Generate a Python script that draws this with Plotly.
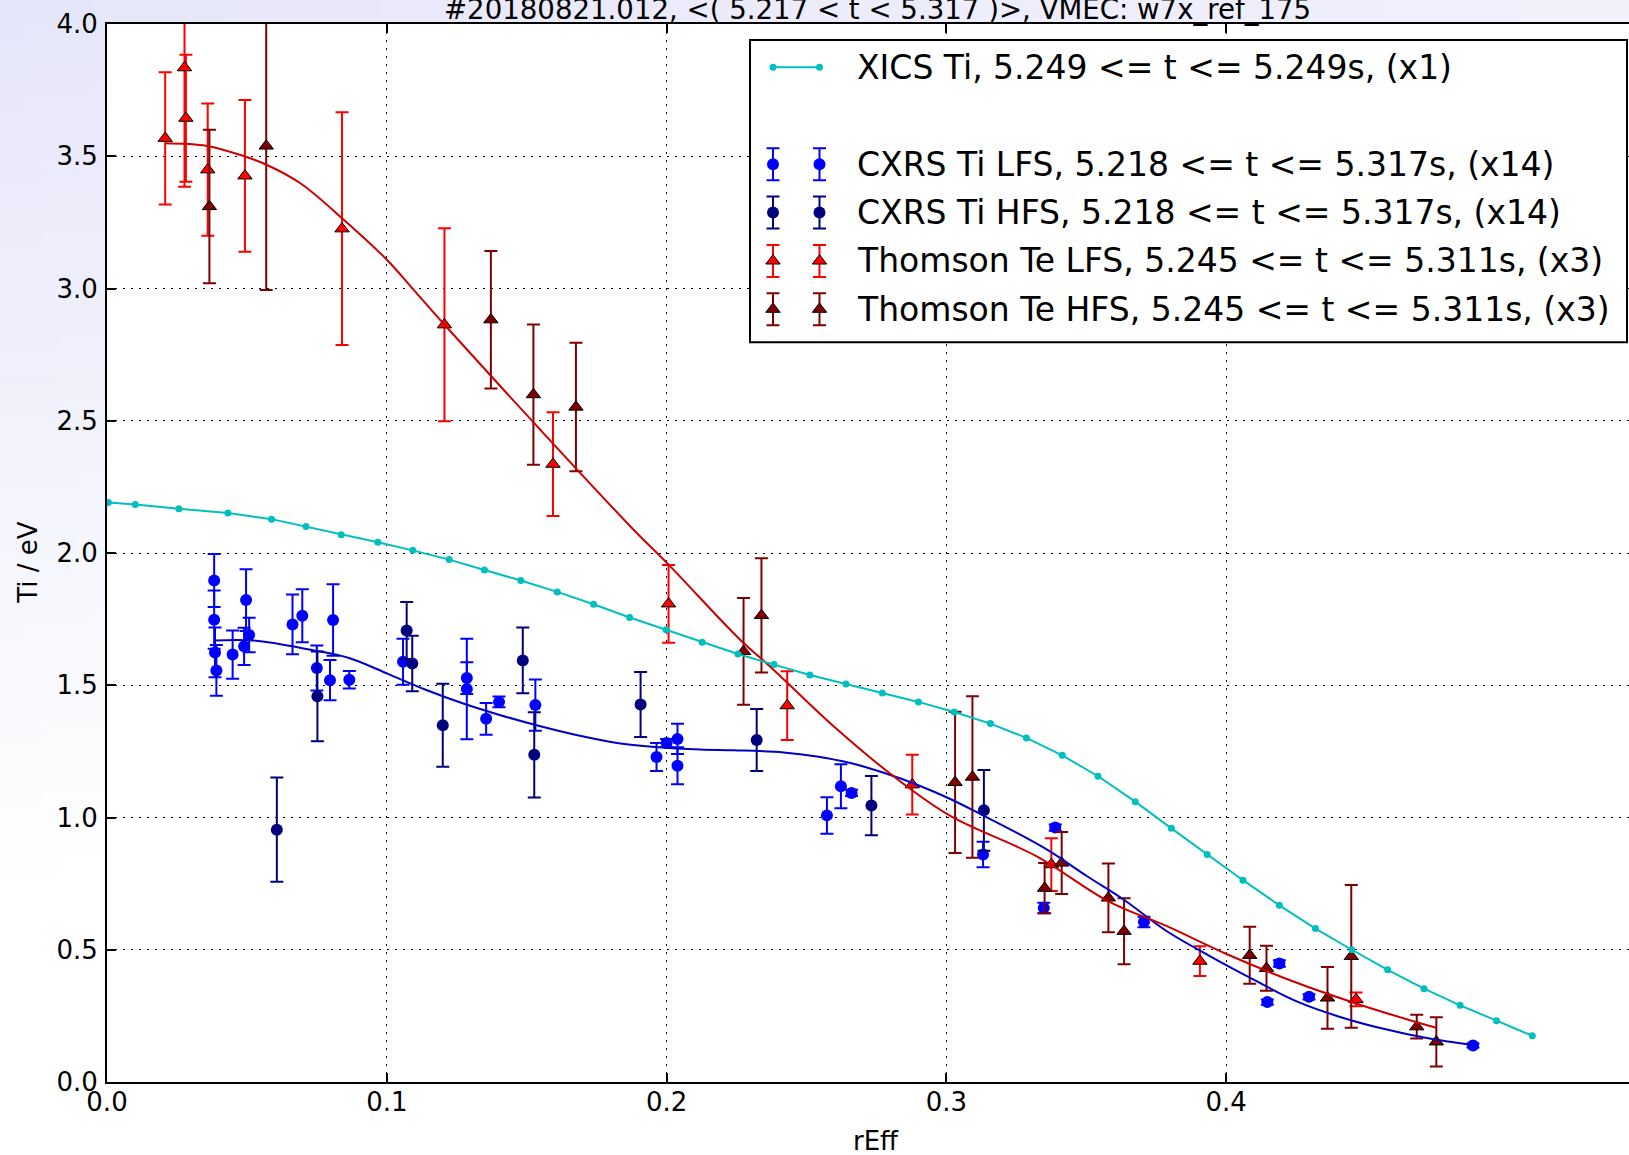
import base64
import struct
import zlib

import plotly.graph_objects as go

# ---------------- data ----------------
xics_r = [0.0005, 0.0101, 0.0257, 0.0432, 0.0588, 0.0711, 0.0837, 0.0968, 0.1093, 0.1223,
          0.1349, 0.1479, 0.1609, 0.1739, 0.1868, 0.1998, 0.2127, 0.2255, 0.2384, 0.2512,
          0.2641, 0.2771, 0.2900, 0.3028, 0.3157, 0.3286, 0.3414, 0.3542, 0.3675, 0.3804,
          0.3932, 0.4060, 0.4190, 0.4319, 0.4449, 0.4577, 0.4707, 0.4836, 0.4966, 0.5094]
xics_ti = [2.191, 2.183, 2.167, 2.151, 2.128, 2.100, 2.069, 2.041, 2.010, 1.975,
           1.936, 1.896, 1.853, 1.806, 1.756, 1.710, 1.663, 1.618, 1.578, 1.539,
           1.505, 1.471, 1.437, 1.399, 1.355, 1.301, 1.235, 1.156, 1.060, 0.959,
           0.860, 0.763, 0.668, 0.580, 0.500, 0.424, 0.353, 0.290, 0.232, 0.175]

cxrs_lfs_r = [0.0383, 0.0383, 0.0386, 0.0391, 0.0449, 0.0490, 0.0497, 0.0508, 0.0663, 0.0698,
              0.0808, 0.0750, 0.0797, 0.0866, 0.1058, 0.1286, 0.1286, 0.1355, 0.1401, 0.1531,
              0.1964, 0.2000, 0.2039, 0.2039, 0.2573, 0.2623, 0.2661, 0.3131, 0.3389, 0.3348,
              0.3706, 0.4190, 0.4147, 0.4296, 0.4882]
cxrs_lfs_ti = [1.896, 1.748, 1.624, 1.556, 1.616, 1.647, 1.822, 1.690, 1.730, 1.763,
               1.747, 1.565, 1.519, 1.521, 1.589, 1.527, 1.486, 1.373, 1.437, 1.425,
               1.229, 1.282, 1.297, 1.196, 1.008, 1.118, 1.093, 0.860, 0.962, 0.658,
               0.605, 0.448, 0.302, 0.322, 0.138]
cxrs_lfs_err = [0.100, 0.110, 0.094, 0.096, 0.091, 0.070, 0.117, 0.065, 0.113, 0.100,
                0.135, 0.085, 0.076, 0.033, 0.087, 0.060, 0.190, 0.060, 0.020, 0.097,
                0.053, 0.015, 0.057, 0.070, 0.069, 0.083, 0.012, 0.048, 0.012, 0.020,
                0.020, 0.012, 0.010, 0.010, 0.008]

cxrs_hfs_r = [0.0752, 0.0607, 0.1071, 0.1091, 0.1200, 0.1486, 0.1527, 0.1907, 0.2322, 0.2732, 0.3134]
cxrs_hfs_ti = [1.458, 0.954, 1.707, 1.582, 1.349, 1.594, 1.237, 1.427, 1.293, 1.045, 1.027]
cxrs_hfs_err = [0.170, 0.197, 0.108, 0.105, 0.157, 0.124, 0.161, 0.123, 0.117, 0.112, 0.153]

ts_lfs_r = [0.0208, 0.0277, 0.0282, 0.0360, 0.0493, 0.0840, 0.1206, 0.1594, 0.2007, 0.2431,
            0.2878, 0.3375, 0.3906, 0.4464]
ts_lfs_te = [3.568, 3.835, 3.644, 3.449, 3.426, 3.226, 2.863, 2.336, 1.808, 1.423,
             1.124, 0.822, 0.457, 0.312]
ts_lfs_err = [0.250, 0.450, 0.240, 0.250, 0.287, 0.440, 0.365, 0.196, 0.147, 0.130,
              0.113, 0.100, 0.056, 0.026]

ts_hfs_r = [0.0366, 0.0569, 0.1372, 0.1524, 0.1676, 0.2275, 0.2339, 0.3031, 0.3093, 0.3351,
            0.3412, 0.3579, 0.3635, 0.4084, 0.4144, 0.4362, 0.4447, 0.4681, 0.4751]
ts_hfs_te = [3.310, 3.539, 2.882, 2.599, 2.552, 1.628, 1.764, 1.133, 1.153, 0.733,
             0.828, 0.696, 0.570, 0.479, 0.430, 0.318, 0.475, 0.209, 0.152]
ts_hfs_err = [0.290, 0.545, 0.260, 0.265, 0.243, 0.202, 0.216, 0.267, 0.305, 0.095,
              0.117, 0.130, 0.125, 0.108, 0.085, 0.117, 0.270, 0.045, 0.093]

cxrs_fit_r = [0.0386, 0.0523, 0.0728, 0.0865, 0.1002, 0.1139, 0.1276, 0.1412, 0.1549, 0.1686,
              0.1823, 0.1959, 0.2121, 0.2240, 0.2418, 0.2537, 0.2657, 0.2776, 0.2895, 0.3014,
              0.3133, 0.3252, 0.3370, 0.3503, 0.3633, 0.3788, 0.3943, 0.4098, 0.4252, 0.4407,
              0.4562, 0.4717, 0.4882]
cxrs_fit_ti = [1.669, 1.669, 1.634, 1.603, 1.544, 1.483, 1.430, 1.385, 1.345, 1.310,
               1.282, 1.267, 1.257, 1.254, 1.246, 1.231, 1.206, 1.169, 1.124, 1.070,
               1.007, 0.942, 0.872, 0.778, 0.690, 0.570, 0.475, 0.387, 0.305, 0.246,
               0.201, 0.166, 0.139]

ts_fit_r = [0.0208, 0.0357, 0.0488, 0.0572, 0.0691, 0.0840, 0.1001, 0.1096, 0.1206, 0.1545,
            0.1882, 0.2007, 0.2263, 0.2382, 0.2597, 0.2811, 0.3014, 0.3323, 0.3579, 0.3788,
            0.4005, 0.4252, 0.4464, 0.4681, 0.4751]
ts_fit_te = [3.549, 3.539, 3.501, 3.467, 3.398, 3.266, 3.108, 2.995, 2.863, 2.470,
             2.088, 1.956, 1.672, 1.559, 1.345, 1.156, 1.006, 0.853, 0.683, 0.589,
             0.482, 0.375, 0.297, 0.226, 0.205]

x_ticks = [0.0, 0.1, 0.2, 0.3, 0.4]
y_ticks = [0.0, 0.5, 1.0, 1.5, 2.0, 2.5, 3.0, 3.5, 4.0]

title_text = "#20180821.012, <( 5.217 < t < 5.317 )>, VMEC: w7x_ref_175"
legend_labels = [
    "XICS Ti, 5.249 <= t <= 5.249s, (x1)",
    "CXRS Ti LFS, 5.218 <= t <= 5.317s, (x14)",
    "CXRS Ti HFS, 5.218 <= t <= 5.317s, (x14)",
    "Thomson Te LFS, 5.245 <= t <= 5.311s, (x3)",
    "Thomson Te HFS, 5.245 <= t <= 5.311s, (x3)",
]

# ---------------- geometry / style ----------------
W, H = 1629, 1155
REF_L, REF_T, REF_B = 107, 24, 1082.5   # plot area in page pixels
L, T = REF_L, REF_T
B = H - REF_B
PW = W - L
PH = H - T - B
PX_PER_X = 2798.0
X_MAX = PW / PX_PER_X
FONT = "DejaVu Sans"

C_CYAN = "#00bfbf"
C_BLUE = "#0000ff"
C_NAVY = "#00007f"
C_RED = "#ff0000"
C_DRED = "#7f0000"
C_BFIT = "#0000c8"
C_RFIT = "#cc0000"


def paper_x(vx):
    return (vx - L) / PW


def paper_y(vy):
    return (T + PH - vy) / PH


def gradient_png(w, h):
    rows = []
    for j in range(h):
        v = j / (h - 1)
        row = bytearray([0])
        for i in range(w):
            u = i / (w - 1)
            t = max(0.0, min(1.0, 1.0 - 1.3 * v - 0.45 * u))
            r = round(255 - t * 25)
            g = round(255 - t * 25)
            b = round(255 - t * 5)
            row += bytes((r, g, b))
        rows.append(bytes(row))
    raw = b"".join(rows)

    def chunk(tag, data):
        return (struct.pack(">I", len(data)) + tag + data
                + struct.pack(">I", zlib.crc32(tag + data) & 0xFFFFFFFF))

    png = (b"\x89PNG\r\n\x1a\n"
           + chunk(b"IHDR", struct.pack(">IIBBBBB", w, h, 8, 2, 0, 0, 0))
           + chunk(b"IDAT", zlib.compress(raw, 9))
           + chunk(b"IEND", b""))
    return "data:image/png;base64," + base64.b64encode(png).decode()


fig = go.Figure()


def err_scatter(x, y, err, color, symbol, size, name, line_color=None):
    return go.Scatter(
        x=x, y=y, mode="markers", name=name, showlegend=False,
        marker=dict(color=color, symbol=symbol, size=size,
                    line=dict(color=line_color or color, width=1 if line_color else 0)),
        error_y=dict(type="data", array=err, visible=True, color=color,
                     thickness=2, width=6.5),
    )


fig.add_trace(err_scatter(cxrs_lfs_r, cxrs_lfs_ti, cxrs_lfs_err, C_BLUE, "circle", 12, legend_labels[1]))
fig.add_trace(err_scatter(cxrs_hfs_r, cxrs_hfs_ti, cxrs_hfs_err, C_NAVY, "circle", 12, legend_labels[2]))
fig.add_trace(err_scatter(ts_lfs_r, ts_lfs_te, ts_lfs_err, C_RED, "triangle-up", 12.5, legend_labels[3], "#000000"))
fig.add_trace(err_scatter(ts_hfs_r, ts_hfs_te, ts_hfs_err, C_DRED, "triangle-up", 12.5, legend_labels[4], "#000000"))

fig.add_trace(go.Scatter(x=cxrs_fit_r, y=cxrs_fit_ti, mode="lines", showlegend=False,
                         line=dict(color=C_BFIT, width=2, shape="spline", smoothing=1.0)))
fig.add_trace(go.Scatter(x=ts_fit_r, y=ts_fit_te, mode="lines", showlegend=False,
                         line=dict(color=C_RFIT, width=2, shape="spline", smoothing=1.0)))
fig.add_trace(go.Scatter(x=xics_r, y=xics_ti, mode="lines+markers", name=legend_labels[0],
                         showlegend=False, line=dict(color=C_CYAN, width=2),
                         marker=dict(color=C_CYAN, size=7)))

# ---------------- custom legend (overlay axes in page pixels) ----------------
LEG_X0, LEG_X1, LEG_Y0, LEG_Y1 = 750, 1627, 40, 342.5
M1, M2 = 773, 819.5
TXT_X = 855
ROWS = [67.3, 164.3, 212.7, 261.0, 309.3]
ERR_PX = 16


def vx_to_data(vx):
    return (vx - REF_L) / PX_PER_X


def vy_to_data(vy):
    return (REF_B - vy) / (REF_B - REF_T) * 4.0


fig.add_shape(type="rect", xref="x", yref="y",
              x0=vx_to_data(LEG_X0), x1=vx_to_data(LEG_X1),
              y0=vy_to_data(LEG_Y1), y1=vy_to_data(LEG_Y0),
              line=dict(color="#000000", width=2), fillcolor="#ffffff", layer="between")

fig.add_trace(go.Scatter(x=[M1, M2], y=[ROWS[0]] * 2, xaxis="x2", yaxis="y2", mode="lines+markers",
                         showlegend=False, hoverinfo="skip", cliponaxis=False,
                         line=dict(color=C_CYAN, width=2), marker=dict(color=C_CYAN, size=7)))
leg_styles = [(C_BLUE, "circle", 12, None), (C_NAVY, "circle", 12, None),
              (C_RED, "triangle-up", 12.5, "#000000"), (C_DRED, "triangle-up", 12.5, "#000000")]
for k, (col, sym, sz, lc) in enumerate(leg_styles):
    fig.add_trace(go.Scatter(
        x=[M1, M2], y=[ROWS[k + 1]] * 2, xaxis="x2", yaxis="y2", mode="markers",
        showlegend=False, hoverinfo="skip", cliponaxis=False,
        marker=dict(color=col, symbol=sym, size=sz,
                    line=dict(color=lc or col, width=1 if lc else 0)),
        error_y=dict(type="constant", value=ERR_PX, visible=True, color=col, thickness=2, width=6.5)))

annotations = []
for k, lab in enumerate(legend_labels):
    annotations.append(dict(x=paper_x(TXT_X), y=paper_y(ROWS[k]), xref="paper", yref="paper",
                            text=lab, showarrow=False, xanchor="left", yanchor="middle",
                            font=dict(family=FONT, size=33, color="#000000")))

annotations.append(dict(x=paper_x(877), y=paper_y(28.5), xref="paper", yref="paper",
                        text=title_text, showarrow=False, xanchor="center", yanchor="bottom",
                        font=dict(family=FONT, size=27.6, color="#000000")))
annotations.append(dict(x=paper_x(876), y=paper_y(1142), xref="paper", yref="paper",
                        text="rEff", showarrow=False, xanchor="center", yanchor="middle",
                        font=dict(family=FONT, size=26, color="#000000")))
annotations.append(dict(x=paper_x(28), y=paper_y(563), xref="paper", yref="paper",
                        text="Ti / eV", showarrow=False, textangle=-90,
                        xanchor="center", yanchor="middle",
                        font=dict(family=FONT, size=26, color="#000000")))

# white plot background (above the gradient image)
fig.add_shape(type="rect", xref="paper", yref="paper", x0=0, x1=1, y0=0, y1=1,
              line=dict(width=0), fillcolor="#ffffff", layer="below")

grid_dash = "2px,6px"
fig.update_layout(
    width=W, height=H,
    margin=dict(l=L, r=0, t=T, b=B, pad=0, autoexpand=False),
    paper_bgcolor="#ffffff", plot_bgcolor="#ffffff",
    font=dict(family=FONT, size=26, color="#000000"),
    showlegend=False,
    annotations=annotations,
    images=[dict(source=gradient_png(96, 68), xref="paper", yref="paper",
                 x=-L / PW, y=1 + T / PH, sizex=W / PW, sizey=H / PH,
                 sizing="stretch", xanchor="left", yanchor="top", layer="below")],
    xaxis=dict(range=[0, X_MAX], tickvals=x_ticks, ticktext=[f"{v:.1f}" for v in x_ticks],
               ticks="inside", ticklen=9, tickwidth=1.5, tickcolor="#000000",
               showline=True, linecolor="#000000", linewidth=2, mirror="ticks",
               showgrid=True, gridcolor="#000000", gridwidth=1, griddash=grid_dash,
               zeroline=False, ticklabelstandoff=-4,
               tickfont=dict(family=FONT, size=26, color="#000000")),
    yaxis=dict(range=[0, 4.0], tickvals=y_ticks, ticktext=[f"{v:.1f}" for v in y_ticks],
               ticks="inside", ticklen=9, tickwidth=1.5, tickcolor="#000000",
               showline=True, linecolor="#000000", linewidth=2, mirror=False,
               showgrid=True, gridcolor="#000000", gridwidth=1, griddash=grid_dash,
               zeroline=False, ticklabelstandoff=2,
               tickfont=dict(family=FONT, size=26, color="#000000")),
    xaxis2=dict(range=[REF_L, W], overlaying="x", visible=False, fixedrange=True),
    yaxis2=dict(range=[REF_B, REF_T], overlaying="y", visible=False, fixedrange=True),
)

fig.write_html("out.html", config={"displayModeBar": False},
               post_script="document.body.style.margin='0';document.body.style.overflow='hidden';")
